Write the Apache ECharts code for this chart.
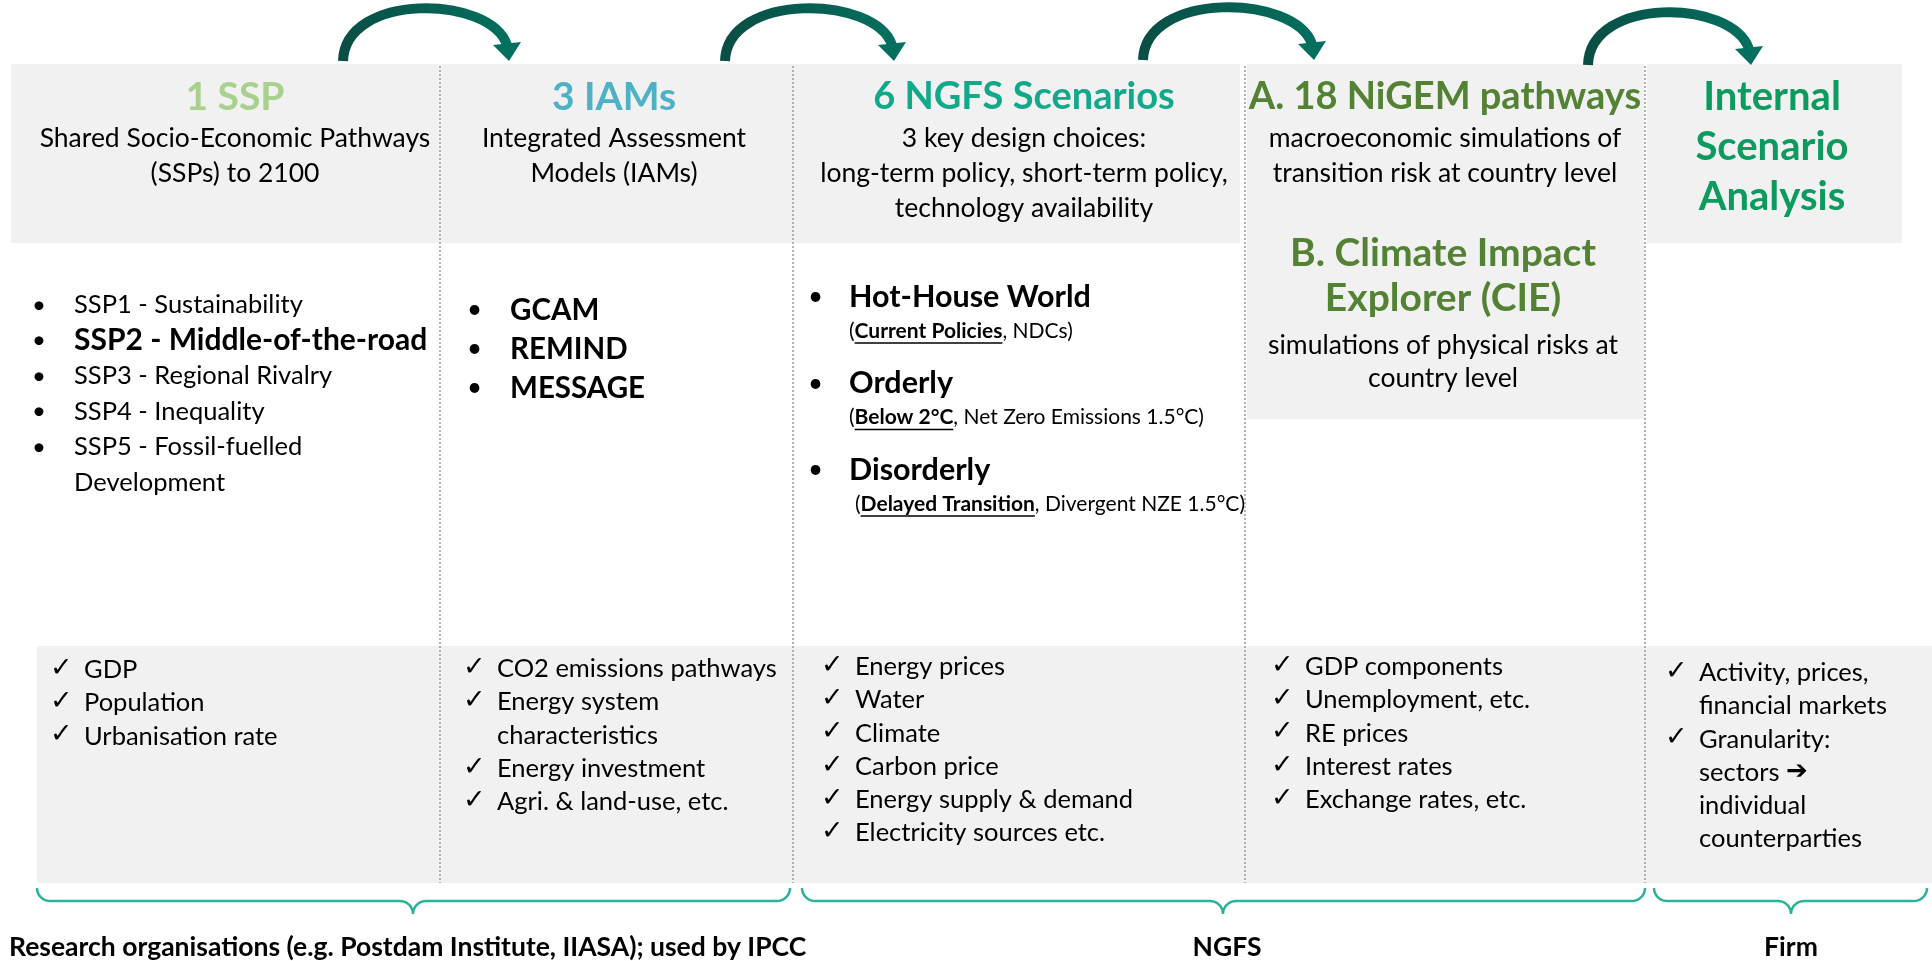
<!DOCTYPE html>
<html>
<head>
<meta charset="utf-8">
<title>From SSPs to internal scenario analysis</title>
<script src="https://cdn.jsdelivr.net/npm/echarts@6/dist/echarts.min.js"></script>
<style>
html, body { margin: 0; padding: 0; background: #fff; }
#chart { width: 1932px; height: 961px; }
</style>
</head>
<body>
<div id="chart"></div>
<script>
// ---- content ----
const columnTitles = ['1 SSP', '3 IAMs', '6 NGFS Scenarios', 'A. 18 NiGEM pathways', 'Internal\nScenario\nAnalysis']
const columnSubtitles = [
  ['Shared Socio-Economic Pathways', '(SSPs) to 2100'],
  ['Integrated Assessment', 'Models (IAMs)'],
  ['3 key design choices:', 'long-term policy, short-term policy,', 'technology availability'],
  ['macroeconomic simulations of', 'transition risk at country level'],
  []
]
const cieTitle = ['B. Climate Impact', 'Explorer (CIE)']
const cieSubtitle = ['simulations of physical risks at', 'country level']

const sspList = ['SSP1 - Sustainability', 'SSP2 - Middle-of-the-road', 'SSP3 - Regional Rivalry', 'SSP4 - Inequality', 'SSP5 - Fossil-fuelled\nDevelopment']
const sspHighlight = 'SSP2 - Middle-of-the-road'
const iamList = ['GCAM', 'REMIND', 'MESSAGE']
const scenarioFamilies = ['Hot-House World', 'Orderly', 'Disorderly']
// [underlined scenario, other scenarios]
const scenarioNotes = [
  ['Current Policies', ', NDCs'],
  ['Below 2°C', ', Net Zero Emissions 1.5°C'],
  ['Delayed Transition', ', Divergent NZE 1.5°C']
]

const outputs = [
  ['GDP', 'Population', 'Urbanisation rate'],
  ['CO2 emissions pathways', 'Energy system\ncharacteristics', 'Energy investment', 'Agri. & land-use, etc.'],
  ['Energy prices', 'Water', 'Climate', 'Carbon price', 'Energy supply & demand', 'Electricity sources etc.'],
  ['GDP components', 'Unemployment, etc.', 'RE prices', 'Interest rates', 'Exchange rates, etc.'],
  ['Activity, prices,\nfinancial markets', 'Granularity:\nsectors {a|➔}\nindividual\ncounterparties']
]
const groupLabels = ['Research organisations (e.g. Postdam Institute, IIASA); used by IPCC', 'NGFS', 'Firm']

// ---- layout (canvas units) ----
const W = 1932, H = 961
const FONT = 'Lato, "Open Sans", sans-serif'
const SYM = '"DejaVu Sans", sans-serif'
const GREY = '#f1f1f1'
const titleColors = ['#a9d18e', '#4fb1c5', '#12a98a', '#548235', '#0c9b5e']
const titleSizes = [39, 39, 38, 38, 40]
const titleX = [235, 614, 1024, 1445, 1772]
const dividerX = [440, 793, 1245, 1645]
const checkX = [50, 463, 821, 1271, 1665]
const checkTop = [670, 669, 667, 667, 673]
const arrows = [[343, 508, 61], [725, 893, 61], [1143, 1313, 60], [1588, 1750, 65]]
const braces = [[37, 790, 413], [802, 1645, 1223], [1654, 1927, 1791]]
const labelX = [9, 1227, 1791]

const measureCtx = document.createElement('canvas').getContext('2d')
function textWidth(s, size, weight) {
  measureCtx.font = (weight || 'normal') + ' ' + size + 'px Lato'
  return measureCtx.measureText(s).width
}

function renderDiagram(params, api) {
  const at = (x, y) => api.coord([x, y])
  const kids = []
  const rect = (x, y, w, h, fill) => {
    const a = at(x, y), b = at(x + w, y + h)
    kids.push({ type: 'rect', shape: { x: a[0], y: a[1], width: b[0] - a[0], height: b[1] - a[1] }, style: { fill } })
  }
  const text = (x, y, s, o) => {
    const p = at(x, y)
    kids.push({ type: 'text', style: Object.assign({ x: p[0], y: p[1], text: s, fontFamily: FONT, fontSize: 22, fill: '#000', align: 'left', verticalAlign: 'middle' }, o) })
  }
  const line = (pts, style) => {
    kids.push({ type: 'polyline', shape: { points: pts.map(p => at(p[0], p[1])) }, style: Object.assign({ fill: null, stroke: '#000', lineWidth: 1 }, style) })
  }

  // grey panels
  rect(11, 64, 1229, 179, GREY)
  rect(1247, 64, 397, 355, GREY)
  rect(1647, 64, 255, 179, GREY)
  rect(37, 646, 1895, 237, GREY)

  // dotted column dividers
  dividerX.forEach(x => line([[x, 66], [x, 883]], { stroke: '#9b9b9b', lineWidth: 1.5, lineDash: [2, 2] }))

  // column headings
  columnTitles.forEach((t, i) => {
    const lines = t.split('\n')
    lines.forEach((l, k) => text(titleX[i], 97 + k * 50, l, { align: 'center', fontSize: titleSizes[i], fontWeight: 'bold', fill: titleColors[i] }))
    columnSubtitles[i].forEach((s, k) => text(titleX[i], 138 + k * 35, s, { align: 'center', fontSize: 26.5 }))
  })
  cieTitle.forEach((s, k) => text(1443, 253 + k * 45, s, { align: 'center', fontSize: 39, fontWeight: 'bold', fill: titleColors[3] }))
  cieSubtitle.forEach((s, k) => text(1443, 345 + k * 33, s, { align: 'center', fontSize: 26.5 }))

  // SSP list
  let row = 0
  sspList.forEach(item => {
    const bold = item === sspHighlight
    item.split('\n').forEach((l, k) => {
      const y = 305 + row * 35.5
      if (k === 0) text(32, y, '•', { fontSize: 24 })
      text(74, y, l, bold ? { fontSize: 30, fontWeight: 'bold' } : { fontSize: 25.5 })
      row++
    })
  })

  // IAM list
  iamList.forEach((m, i) => {
    const y = 310 + i * 39
    text(467, y, '•', { fontSize: 26 })
    text(510, y, m, { fontSize: 29.5, fontWeight: 'bold' })
  })

  // NGFS scenario families with notes
  scenarioFamilies.forEach((f, i) => {
    const y = 297 + i * 86.5
    text(808, y, '•', { fontSize: 26 })
    text(849, y, f, { fontSize: 30.5, fontWeight: 'bold' })
    const nx = i === 2 ? 855 : 849, ny = y + 34
    const u = scenarioNotes[i][0]
    text(nx, ny, '({u|' + u + '}' + scenarioNotes[i][1] + ')', {
      fontSize: 21,
      rich: { u: { fontFamily: FONT, fontSize: 21, fontWeight: 'bold' } }
    })
    const x0 = nx + textWidth('(', 21)
    line([[x0, ny + 12], [x0 + textWidth(u, 21, 'bold'), ny + 12]], { lineWidth: 1.4 })
  })

  // output checklists
  outputs.forEach((items, c) => {
    let r = 0
    items.forEach(item => {
      item.split('\n').forEach((l, k) => {
        const y = checkTop[c] + r * 33.2
        if (k === 0) text(checkX[c], y - 1, '✓', { fontFamily: SYM, fontSize: 27 })
        text(checkX[c] + 34, y, l, { fontSize: 25.5, rich: { a: { fontFamily: SYM, fontSize: 26, fontWeight: 'bold' } } })
        r++
      })
    })
  })

  // curved arrows between stages
  const arrowFill = new echarts.graphic.LinearGradient(0, 0, 1, 0, [
    { offset: 0, color: '#0a4d44' }, { offset: 1, color: '#03705f' }
  ])
  arrows.forEach(([sx, tx, by]) => {
    const a = at(sx, by), b = at(tx - 1, by - 16)
    const c1 = at(sx + 2, by - 69), c2 = at(tx - 18, by - 66)
    kids.push({ type: 'bezierCurve', shape: { x1: a[0], y1: a[1], x2: b[0], y2: b[1], cpx1: c1[0], cpy1: c1[1], cpx2: c2[0], cpy2: c2[1] },
      style: { fill: null, stroke: arrowFill, lineWidth: 10 } })
    kids.push({ type: 'polygon', shape: { points: [at(tx - 15, by - 16), at(tx + 13, by - 19), at(tx + 1, by)] }, style: { fill: '#03705f' } })
  })

  // braces grouping the columns
  braces.forEach(([x0, x1, xm]) => {
    const yTop = 888, r = 13, yMid = yTop + r
    const pts = []
    const N = 10
    for (let i = 0; i <= N; i++) { const t = i / N * Math.PI / 2; pts.push([x0 + r - r * Math.cos(t), yTop + r * Math.sin(t)]) }
    for (let i = 0; i <= N; i++) { const t = i / N * Math.PI / 2; pts.push([xm - r + r * Math.sin(t), yMid + r - r * Math.cos(t)]) }
    for (let i = N; i >= 0; i--) { const t = i / N * Math.PI / 2; pts.push([xm + r - r * Math.sin(t), yMid + r - r * Math.cos(t)]) }
    for (let i = 0; i <= N; i++) { const t = i / N * Math.PI / 2; pts.push([x1 - r + r * Math.sin(t), yTop + r * Math.cos(t)]) }
    line(pts, { stroke: '#2bb39a', lineWidth: 2.5 })
  })

  // group labels
  groupLabels.forEach((g, i) => text(labelX[i], 947, g, { align: i === 0 ? 'left' : 'center', fontSize: 26.5, fontWeight: 'bold' }))

  return { type: 'group', children: kids }
}

const chart = echarts.init(document.getElementById('chart'))
chart.setOption({
  animation: false,
  backgroundColor: '#fff',
  grid: { left: 0, right: 0, top: 0, bottom: 0 },
  xAxis: { type: 'value', min: 0, max: W, show: false },
  yAxis: { type: 'value', min: 0, max: H, inverse: true, show: false },
  series: [{
    type: 'custom',
    silent: true,
    coordinateSystem: 'cartesian2d',
    data: [[0, 0]],
    renderItem: renderDiagram
  }]
})
window.addEventListener('resize', () => chart.resize())
</script>
</body>
</html>
